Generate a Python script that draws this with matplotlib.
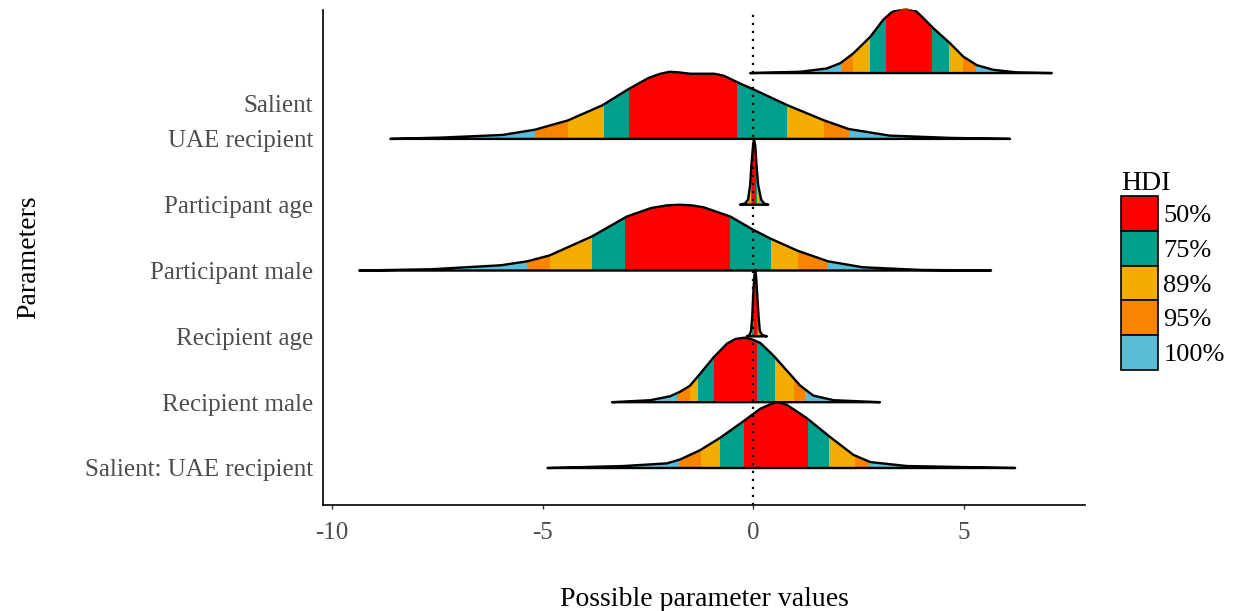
import matplotlib
matplotlib.use("Agg")
import matplotlib.pyplot as plt
from matplotlib.patches import Polygon, Patch
import numpy as np

plt.rcParams['font.family'] = ['Liberation Serif', 'DejaVu Serif']

params = ["Salient", "UAE recipient", "Participant age", "Participant male",
          "Recipient age", "Recipient male", "Salient: UAE recipient"]

# posterior density outlines: x values and ridge heights (in row units)
salient_x = [-0.07, 1.12, 1.75, 2.07, 2.38, 2.78, 3.09, 3.28, 3.45, 3.65, 3.85, 4.02, 4.28, 4.68, 4.99, 5.31, 5.70, 6.26, 7.09]
salient_h = [0, .02, .07, .15, .30, .55, .81, .92, .97, .98, .95, .85, .68, .45, .25, .12, .05, .01, 0]

uae_x = [-8.61, -7.40, -5.95, -5.18, -4.40, -3.58, -2.95, -2.47, -2.20, -1.98, -1.75, -1.50, -0.92, -0.70, -0.53, -0.34, 0.05, 0.82, 1.69, 2.27, 3.24, 4.69, 6.10]
uae_h = [0, .02, .06, .14, .28, .51, .76, .93, .99, 1.02, 1.01, .99, .99, .96, .91, .85, .74, .51, .28, .15, .05, .015, 0]

page_x = [-0.31, -0.19, -0.12, -0.07, -0.04, 0.0, 0.02, 0.05, 0.08, 0.12, 0.19, 0.26, 0.36]
page_h = [0, .02, .08, .30, .61, .91, .99, .91, .61, .30, .08, .02, 0]

pmale_x = [-9.35, -7.63, -5.99, -5.36, -4.83, -3.82, -3.00, -2.42, -2.05, -1.74, -1.45, -1.17, -0.54, 0.0, 0.43, 1.06, 1.78, 2.60, 3.95, 5.65]
pmale_h = [0, .02, .08, .14, .23, .52, .82, .95, .99, 1.0, .99, .96, .82, .62, .48, .30, .14, .05, .01, 0]

rage_x = [-0.15, -0.09, -0.05, -0.02, 0.0, 0.03, 0.05, 0.07, 0.10, 0.13, 0.16, 0.22, 0.33]
rage_h = [0, .02, .08, .30, .61, .92, 1.01, .92, .61, .30, .08, .02, 0]

rmale_x = [-3.35, -2.44, -1.97, -1.73, -1.50, -1.26, -0.94, -0.62, -0.42, -0.21, -0.05, 0.17, 0.48, 0.80, 1.12, 1.43, 1.91, 3.01]
rmale_h = [0, .03, .09, .16, .25, .43, .68, .89, .96, .98, .96, .90, .71, .48, .25, .10, .03, 0]

inter_x = [-4.88, -3.08, -2.05, -1.73, -1.26, -0.78, -0.23, 0.17, 0.45, 0.60, 0.80, 1.27, 1.83, 2.38, 2.78, 3.65, 6.22]
inter_h = [0, .03, .07, .13, .27, .46, .71, .90, .98, 1.0, .96, .76, .47, .20, .09, .03, 0]

# HDI intervals (lower, upper) for the 50, 75, 89 and 95 % levels
salient_hdi = [(3.15, 4.24), (2.78, 4.65), (2.37, 4.99), (2.11, 5.29)]
uae_hdi = [(-2.95, -0.39), (-3.55, 0.80), (-4.40, 1.69), (-5.18, 2.27)]
page_hdi = [(-0.02, 0.06), (-0.05, 0.09), (-0.08, 0.13), (-0.11, 0.17)]
pmale_hdi = [(-3.03, -0.56), (-3.82, 0.43), (-4.83, 1.06), (-5.36, 1.78)]
rage_hdi = [(0.01, 0.09), (-0.02, 0.12), (-0.05, 0.15), (-0.08, 0.19)]
rmale_hdi = [(-0.93, 0.09), (-1.30, 0.52), (-1.51, 0.96), (-1.80, 1.23)]
inter_hdi = [(-0.21, 1.30), (-0.78, 1.81), (-1.24, 2.42), (-1.77, 2.74)]

hdi_levels = ["50%", "75%", "89%", "95%", "100%"]
hdi_colors = ["#FF0000", "#00A08A", "#F2AD00", "#F98400", "#5BBCD6"]

ridges = [(salient_x, salient_h, salient_hdi), (uae_x, uae_h, uae_hdi),
          (page_x, page_h, page_hdi), (pmale_x, pmale_h, pmale_hdi),
          (rage_x, rage_h, rage_hdi), (rmale_x, rmale_h, rmale_hdi),
          (inter_x, inter_h, inter_hdi)]
rows = np.arange(len(params), 0, -1)

fig = plt.figure(figsize=(12.33, 6.11), dpi=100)
ax = fig.add_axes([0.262, 0.1735, 0.618, 0.81])

for i, (xs, hs, hdi) in enumerate(ridges):
    base = rows[i]
    z = 2 + i * 0.1
    outline = Polygon(np.column_stack([xs, base + np.array(hs)]), closed=True,
                      fc="none", ec="black", lw=1.7, joinstyle="round", zorder=z + 0.05)
    ax.add_patch(outline)
    # widest band first, narrower HDIs painted over it
    spans = [(xs[0], xs[-1])] + hdi[::-1]
    for (lo, hi), col in zip(spans, hdi_colors[::-1]):
        band = ax.fill_between([lo, hi], base, base + 1.3, color=col, lw=0, zorder=z)
        band.set_clip_path(outline)

ax.axvline(0, color="black", lw=1.6, ls=(0, (1, 2.6)), zorder=10)

ax.set_xlim(-10.21, 7.88)
ax.set_ylim(0.438, 7.957)
ax.set_xticks([-10, -5, 0, 5], ["-10", "-5", "0", "5"])
tick_pos = rows.astype(float)
tick_pos[0] -= 0.46  # Salient label sits between its ridge and the next one
ax.set_yticks(tick_pos, params)
ax.tick_params(axis="y", length=0, pad=7, labelsize=18, labelcolor="#4D4D4D")
ax.tick_params(axis="x", length=3, width=1, pad=9, labelsize=18, labelcolor="#4D4D4D", color="#333333")
for side in ["top", "right"]:
    ax.spines[side].set_visible(False)
for side in ["left", "bottom"]:
    ax.spines[side].set_linewidth(1.2)

ax.set_xlabel("Possible parameter values", fontsize=20, labelpad=31)
ax.set_ylabel("Parameters", fontsize=20, labelpad=32)

handles = [Patch(fc=c, ec="black", lw=1.2, label=l) for c, l in zip(hdi_colors, hdi_levels)]
leg = ax.legend(handles=handles, title="HDI", loc="upper left",
                bbox_to_anchor=(1121 / 1233, 1 - 171 / 611), bbox_transform=fig.transFigure,
                frameon=False, fontsize=19, title_fontsize=20, handlelength=1.4, handleheight=1.65,
                handletextpad=0.2, labelspacing=0.0, borderpad=0, borderaxespad=0, alignment="left")

fig.savefig("out.png", dpi=100)
